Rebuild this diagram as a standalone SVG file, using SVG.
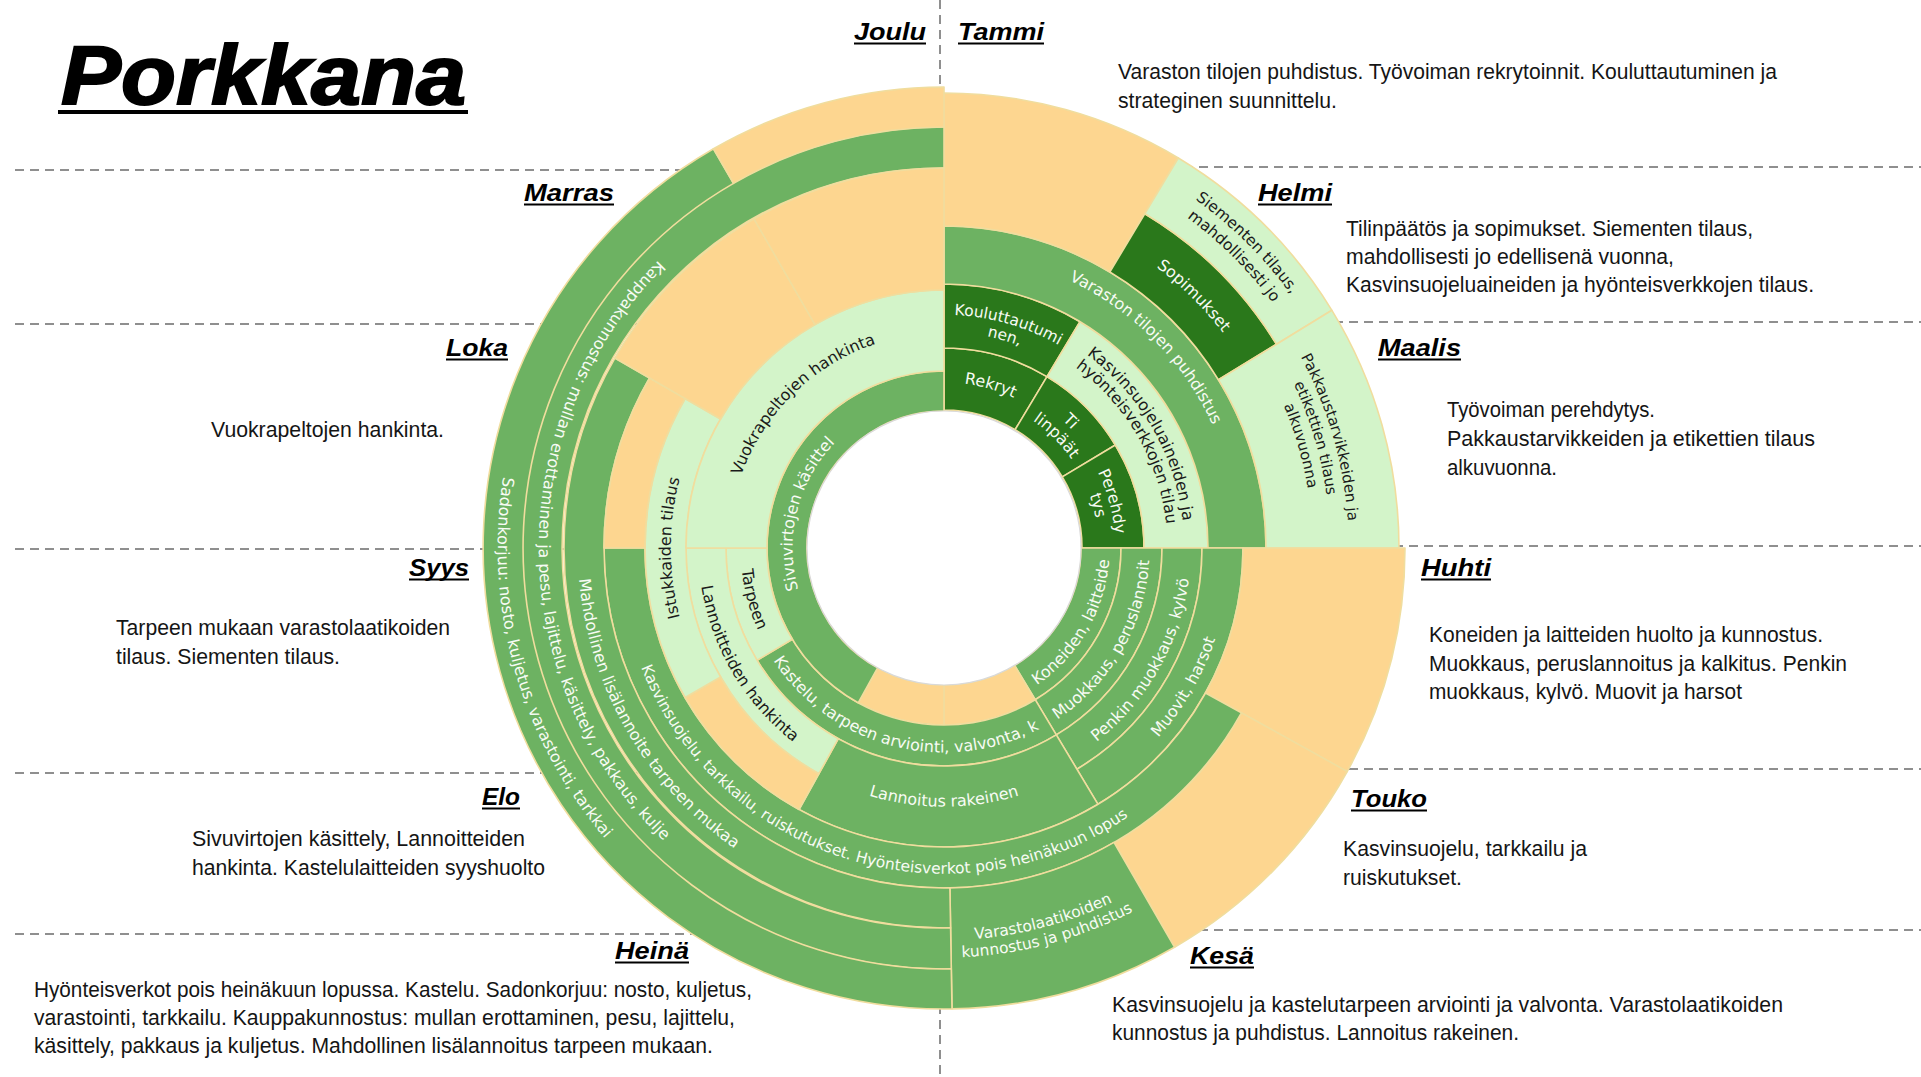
<svg xmlns="http://www.w3.org/2000/svg" width="1921" height="1077" viewBox="0 0 1921 1077">
<style>
.o{fill:#fdd690}.g{fill:#6db262}.d{fill:#2a781b}.l{fill:#d3f4c9}
.s{stroke:#f0dd9e;stroke-width:1.6;stroke-linejoin:round}
.lw{font-family:'DejaVu Sans',Verdana,sans-serif;font-size:16px;fill:#f7fbf4;text-anchor:middle}
.lb{font-family:'DejaVu Sans',Verdana,sans-serif;font-size:16px;fill:#1a1a1a;text-anchor:middle}
.mo{font-family:'Liberation Sans',Arial,sans-serif;font-weight:bold;font-style:italic;font-size:24px;fill:#000}
.ds{font-family:'Liberation Sans Narrow','Liberation Sans',Arial,sans-serif;font-size:22.5px;fill:#151515}
.dash{stroke:#8f8f8f;stroke-width:2;stroke-dasharray:9 6;fill:none}
</style>
<defs>
<path id="c1" d="M781.0,519.3 A165.5,165.5 0 0 1 1107.0,519.3"/>
<path id="c2" d="M714.5,507.6 A233,233 0 0 1 1173.5,507.6"/>
<path id="c3" d="M731.3,510.5 A216,216 0 0 1 1156.7,510.5"/>
<path id="c4" d="M772.2,517.7 A174.5,174.5 0 0 1 1115.8,517.7"/>
<path id="c5" d="M790.9,521.0 A155.5,155.5 0 0 1 1097.1,521.0"/>
<path id="c6" d="M775.1,518.2 A171.5,171.5 0 0 1 1112.9,518.2"/>
<path id="c7" d="M791.8,521.2 A154.5,154.5 0 0 1 1096.2,521.2"/>
<path id="c8" d="M707.2,506.2 A240.5,240.5 0 0 1 1180.8,506.2"/>
<path id="c9" d="M723.9,509.2 A223.5,223.5 0 0 1 1164.1,509.2"/>
<path id="c10" d="M653.0,496.7 A295.5,295.5 0 0 1 1235.0,496.7"/>
<path id="c11" d="M596.9,486.8 A352.5,352.5 0 0 1 1291.1,486.8"/>
<path id="c12" d="M521.0,473.4 A429.5,429.5 0 0 1 1367.0,473.4"/>
<path id="c13" d="M540.2,476.8 A410,410 0 0 1 1347.8,476.8"/>
<path id="c14" d="M545.6,477.8 A404.5,404.5 0 0 1 1342.4,477.8"/>
<path id="c15" d="M563.4,480.9 A386.5,386.5 0 0 1 1324.6,480.9"/>
<path id="c16" d="M581.1,484.0 A368.5,368.5 0 0 1 1306.9,484.0"/>
<path id="c17" d="M731.8,510.6 A215.5,215.5 0 0 1 1156.2,510.6"/>
<path id="c18" d="M794.8,521.7 A151.5,151.5 0 0 1 1093.2,521.7"/>
<path id="c19" d="M674.7,500.5 A273.5,273.5 0 0 1 1213.3,500.5"/>
<path id="d1" d="M781.0,576.7 A165.5,165.5 0 0 0 1107.0,576.7"/>
<path id="d2" d="M741.6,583.7 A205.5,205.5 0 0 0 1146.4,583.7"/>
<path id="d3" d="M701.2,590.8 A246.5,246.5 0 0 0 1186.8,590.8"/>
<path id="d4" d="M661.9,597.7 A286.5,286.5 0 0 0 1226.1,597.7"/>
<path id="d5" d="M742.6,583.5 A204.5,204.5 0 0 0 1145.4,583.5"/>
<path id="d6" d="M689.4,592.9 A258.5,258.5 0 0 0 1198.6,592.9"/>
<path id="d7" d="M623.4,604.5 A325.5,325.5 0 0 0 1264.6,604.5"/>
<path id="d8" d="M557.5,616.1 A392.5,392.5 0 0 0 1330.5,616.1"/>
<path id="d9" d="M540.7,619.1 A409.5,409.5 0 0 0 1347.3,619.1"/>
<path id="d10" d="M743.6,583.3 A203.5,203.5 0 0 0 1144.4,583.3"/>
<path id="d11" d="M702.2,590.6 A245.5,245.5 0 0 0 1185.8,590.6"/>
<path id="d12" d="M583.1,611.6 A366.5,366.5 0 0 0 1304.9,611.6"/>
<path id="d13" d="M544.7,618.4 A405.5,405.5 0 0 0 1343.3,618.4"/>
<path id="d14" d="M504.3,625.5 A446.5,446.5 0 0 0 1383.7,625.5"/>
</defs>
<rect width="1921" height="1077" fill="#fff"/>
<g id="guides">
<line class="dash" x1="15" y1="170" x2="944" y2="170"/>
<line class="dash" x1="15" y1="324" x2="944" y2="324"/>
<line class="dash" x1="15" y1="549" x2="944" y2="549"/>
<line class="dash" x1="15" y1="773" x2="944" y2="773"/>
<line class="dash" x1="15" y1="934" x2="944" y2="934"/>
<line class="dash" x1="944" y1="167" x2="1921" y2="167"/>
<line class="dash" x1="944" y1="322" x2="1921" y2="322"/>
<line class="dash" x1="944" y1="546" x2="1921" y2="546"/>
<line class="dash" x1="944" y1="769" x2="1921" y2="769"/>
<line class="dash" x1="944" y1="930" x2="1921" y2="930"/>
<line class="dash" x1="940" y1="0" x2="940" y2="1077"/>
</g>
<g id="sunburst">
<g id="n-rekryt"><path class="d s" d="M944,348 A200,200 0 0 1 1047.0,376.6 L1015.1,429.7 A138,138 0 0 0 944,410 Z"/><text class="lw" transform="rotate(16 944 548)"><textPath href="#c1" startOffset="50%">Rekryt</textPath></text></g>
<g id="n-tilinpaatos"><path class="d s" d="M1047.0,376.6 A200,200 0 0 1 1115.4,445.0 L1062.3,476.9 A138,138 0 0 0 1015.1,429.7 Z"/><text class="lw" transform="rotate(45 944 548)"><textPath href="#c4" startOffset="50%">Ti</textPath></text><text class="lw" transform="rotate(45 944 548)"><textPath href="#c5" startOffset="50%">linpäät</textPath></text></g>
<g id="n-perehdytys"><path class="d s" d="M1115.4,445.0 A200,200 0 0 1 1144,548 L1082,548 A138,138 0 0 0 1062.3,476.9 Z"/><text class="lw" transform="rotate(74.5 944 548)"><textPath href="#c6" startOffset="50%">Perehdy</textPath></text><text class="lw" transform="rotate(74.5 944 548)"><textPath href="#c7" startOffset="50%">tys</textPath></text></g>
<g id="n-kouluttautuminen"><path class="d s" d="M944,284 A264,264 0 0 1 1080.0,321.7 L1047.0,376.6 A200,200 0 0 0 944,348 Z"/><text class="lw" style="font-size:15.5px" transform="rotate(16 944 548)"><textPath href="#c2" startOffset="50%">Kouluttautumi</textPath></text><text class="lw" style="font-size:15.5px" transform="rotate(16 944 548)"><textPath href="#c3" startOffset="50%">nen,</textPath></text></g>
<g id="n-kasvinsuojeluaineet"><path class="l s" d="M1080.0,321.7 A264,264 0 0 1 1208,548 L1144,548 A200,200 0 0 0 1047.0,376.6 Z"/><text class="lb" transform="rotate(60 944 548)"><textPath href="#c8" startOffset="50%">Kasvinsuojeluaineiden ja</textPath></text><text class="lb" transform="rotate(60 944 548)"><textPath href="#c9" startOffset="50%">hyönteisverkkojen tilau</textPath></text></g>
<g id="n-varaston"><path class="g s" d="M944,226 A322,322 0 0 1 1266,548 L1208,548 A264,264 0 0 0 944,284 Z"/><text class="lw" transform="rotate(45.2 944 548)"><textPath href="#c10" startOffset="50%">Varaston tilojen puhdistus</textPath></text></g>
<g id="n-ur-empty"><path class="o s" d="M944,93 A455,455 0 0 1 1178.3,158.0 L1109.8,272.0 A322,322 0 0 0 944,226 Z"/></g>
<g id="n-sopimukset"><path class="d s" d="M1144.9,213.7 A390,390 0 0 1 1276.5,344.2 L1218.5,379.8 A322,322 0 0 0 1109.8,272.0 Z"/><text class="lw" transform="rotate(44.7 944 548)"><textPath href="#c11" startOffset="50%">Sopimukset</textPath></text></g>
<g id="n-siementen"><path class="l s" d="M1178.3,158.0 A455,455 0 0 1 1331.9,310.3 L1276.5,344.2 A390,390 0 0 0 1144.9,213.7 Z"/><text class="lb" style="font-size:15.5px" transform="rotate(44.8 944 548)"><textPath href="#c12" startOffset="50%">Siementen tilaus,</textPath></text><text class="lb" style="font-size:15.5px" transform="rotate(44.8 944 548)"><textPath href="#c13" startOffset="50%">mahdollisesti jo</textPath></text></g>
<g id="n-pakkaus"><path class="l s" d="M1331.9,310.3 A455,455 0 0 1 1399,548 L1266,548 A322,322 0 0 0 1218.5,379.8 Z"/><text class="lb" style="font-size:15px" transform="rotate(74 944 548)"><textPath href="#c14" startOffset="50%">Pakkaustarvikkeiden ja</textPath></text><text class="lb" style="font-size:15px" transform="rotate(73.5 944 548)"><textPath href="#c15" startOffset="50%">etikettien tilaus</textPath></text><text class="lb" style="font-size:15px" transform="rotate(74 944 548)"><textPath href="#c16" startOffset="50%">alkuvuonna</textPath></text></g>
<g id="n-koneiden"><path class="g s" d="M1121,548 A177,177 0 0 1 1035.2,699.7 L1014.6,665.4 A137,137 0 0 0 1081,548 Z"/><text class="lw" transform="rotate(-60 944 548)"><textPath href="#d1" startOffset="50%">Koneiden, laitteide</textPath></text></g>
<g id="n-r1-empty-a"><path class="o s" d="M1035.2,699.7 A177,177 0 0 1 944,725 L944,685 A137,137 0 0 0 1014.6,665.4 Z"/></g>
<g id="n-r1-empty-b"><path class="o s" d="M944,725 A177,177 0 0 1 858.2,702.8 L877.6,667.8 A137,137 0 0 0 944,685 Z"/></g>
<g id="n-muokkaus"><path class="g s" d="M1162,548 A218,218 0 0 1 1056.3,734.9 L1035.2,699.7 A177,177 0 0 0 1121,548 Z"/><text class="lw" transform="rotate(-60 944 548)"><textPath href="#d2" startOffset="50%">Muokkaus, peruslannoit</textPath></text></g>
<g id="n-kastelu"><path class="g s" d="M1056.3,734.9 A218,218 0 0 1 757.1,660.3 L792.3,639.2 A177,177 0 0 0 1035.2,699.7 Z"/><text class="lw" transform="rotate(14.4 944 548)"><textPath href="#d5" startOffset="50%">Kastelu, tarpeen arviointi, valvonta, k</textPath></text></g>
<g id="n-penkin"><path class="g s" d="M1202,548 A258,258 0 0 1 1076.9,769.2 L1056.3,734.9 A218,218 0 0 0 1162,548 Z"/><text class="lw" transform="rotate(-60.5 944 548)"><textPath href="#d3" startOffset="50%">Penkin muokkaus, kylvö</textPath></text></g>
<g id="n-muovit"><path class="g s" d="M1243,548 A299,299 0 0 1 1098.0,804.3 L1076.9,769.2 A258,258 0 0 0 1202,548 Z"/><text class="lw" transform="rotate(-60 944 548)"><textPath href="#d4" startOffset="50%">Muovit, harsot</textPath></text></g>
<g id="n-lannoitus"><path class="g s" d="M1098.0,804.3 A299,299 0 0 1 799.0,809.5 L838.3,738.7 A218,218 0 0 0 1056.3,734.9 Z"/><text class="lw" transform="rotate(0 944 548)"><textPath href="#d6" startOffset="50%">Lannoitus rakeinen</textPath></text></g>
<g id="n-lr-empty-a"><path class="o s" d="M1405,548 A461,461 0 0 1 1347.2,771.5 L1205.5,693.0 A299,299 0 0 0 1243,548 Z"/></g>
<g id="n-lr-empty-b"><path class="o s" d="M1347.2,771.5 A461,461 0 0 1 1174.5,947.2 L1114,842.4 A340,340 0 0 0 1241.4,712.8 Z"/></g>
<g id="n-kasvinsuojelu"><path class="g s" d="M1241.4,712.8 A340,340 0 0 1 604,548 L645,548 A299,299 0 0 0 1205.5,693.0 Z"/><text class="lw" style="font-size:15.5px" transform="rotate(17 944 548)"><textPath href="#d7" startOffset="50%">Kasvinsuojelu, tarkkailu, ruiskutukset. Hyönteisverkot pois heinäkuun lopus</textPath></text></g>
<g id="n-varastolaatikot"><path class="g s" d="M1174.5,947.2 A461,461 0 0 1 952.0,1008.9 L949.9,887.9 A340,340 0 0 0 1114,842.4 Z"/><text class="lw" style="font-size:15.5px" transform="rotate(-15 944 548)"><textPath href="#d8" startOffset="50%">Varastolaatikoiden</textPath></text><text class="lw" style="font-size:15.5px" transform="rotate(-15 944 548)"><textPath href="#d9" startOffset="50%">kunnostus ja puhdistus</textPath></text></g>
<g id="n-sivuvirrat"><path class="g s" d="M858.2,702.8 A177,177 0 0 1 944,371 L944,411 A137,137 0 0 0 877.6,667.8 Z"/><text class="lw" transform="rotate(284 944 548)"><textPath href="#c18" startOffset="50%">Sivuvirtojen käsittel</textPath></text></g>
<g id="n-tarpeen"><path class="l s" d="M757.1,660.3 A218,218 0 0 1 726,548 L767,548 A177,177 0 0 0 792.3,639.2 Z"/><text class="lb" transform="rotate(75 944 548)"><textPath href="#d10" startOffset="50%">Tarpeen</textPath></text></g>
<g id="n-lannoitteet"><path class="l s" d="M818.9,773.7 A258,258 0 0 1 686,548 L726,548 A218,218 0 0 0 838.3,738.7 Z"/><text class="lb" transform="rotate(59.4 944 548)"><textPath href="#d11" startOffset="50%">Lannoitteiden hankinta</textPath></text></g>
<g id="n-ll-empty"><path class="o s" d="M799.0,809.5 A299,299 0 0 1 685.1,697.5 L720.6,677 A258,258 0 0 0 818.9,773.7 Z"/></g>
<g id="n-istukkaat"><path class="l s" d="M685.1,697.5 A299,299 0 0 1 685.1,398.5 L720.6,419 A258,258 0 0 0 720.6,677 Z"/><text class="lb" transform="rotate(270 944 548)"><textPath href="#c19" startOffset="50%">Istukkaiden tilaus</textPath></text></g>
<g id="n-mahdollinen"><path class="g s" d="M950.6,927.9 A380,380 0 0 1 614.9,358 L649.6,378 A340,340 0 0 0 949.9,887.9 Z"/><text class="lw" transform="rotate(60 944 548)"><textPath href="#d12" startOffset="50%">Mahdollinen lisälannoite tarpeen mukaa</textPath></text></g>
<g id="n-kauppakunnostus"><path class="g s" d="M951.3,968.9 A421,421 0 1 1 944,127 L944,168 A380,380 0 1 0 950.6,927.9 Z"/><text class="lw" transform="rotate(89.5 944 548)"><textPath href="#d13" startOffset="50%">Kauppakunnostus: mullan erottaminen ja pesu, lajittelu, käsittely, pakkaus, kulje</textPath></text></g>
<g id="n-sadonkorjuu"><path class="g s" d="M952.0,1008.9 A461,461 0 0 1 713.5,148.8 L733.5,183.4 A421,421 0 0 0 951.3,968.9 Z"/><text class="lw" transform="rotate(74.3 944 548)"><textPath href="#d14" startOffset="50%">Sadonkorjuu: nosto, kuljetus, varastointi, tarkkai</textPath></text></g>
<g id="n-vuokrapellot"><path class="l s" d="M686,548 A258,258 0 0 1 944,290 L944,371 A177,177 0 0 0 767,548 Z"/><text class="lb" transform="rotate(315.6 944 548)"><textPath href="#c17" startOffset="50%">Vuokrapeltojen hankinta</textPath></text></g>
<g id="n-ul-empty-a"><path class="o s" d="M604,548 A340,340 0 0 1 649.6,378 L685.1,398.5 A299,299 0 0 0 645,548 Z"/></g>
<g id="n-ul-empty-b"><path class="o s" d="M614.9,358 A380,380 0 0 1 754,218.9 L815,324.6 A258,258 0 0 0 720.6,419 Z"/></g>
<g id="n-ul-empty-c"><path class="o s" d="M754,218.9 A380,380 0 0 1 944,168 L944,290 A258,258 0 0 0 815,324.6 Z"/></g>
<g id="n-ul-empty-d"><path class="o s" d="M713.5,148.8 A461,461 0 0 1 944,87 L944,127 A421,421 0 0 0 733.5,183.4 Z"/></g>
<circle id="hole" cx="944" cy="548" r="137" fill="#fff" stroke="#d9d9d9" stroke-width="1.2"/>
</g>
<g id="months">
<g id="m-joulu"><text class="mo" x="854" y="40" textLength="72" lengthAdjust="spacingAndGlyphs">Joulu</text><rect x="854" y="42.5" width="72" height="2"/></g>
<g id="m-tammi"><text class="mo" x="958" y="40" textLength="86" lengthAdjust="spacingAndGlyphs">Tammi</text><rect x="958" y="42.5" width="86" height="2"/></g>
<g id="m-marras"><text class="mo" x="524" y="201" textLength="90" lengthAdjust="spacingAndGlyphs">Marras</text><rect x="524" y="203.5" width="90" height="2"/></g>
<g id="m-helmi"><text class="mo" x="1258" y="201" textLength="74" lengthAdjust="spacingAndGlyphs">Helmi</text><rect x="1258" y="203.5" width="74" height="2"/></g>
<g id="m-loka"><text class="mo" x="446" y="356" textLength="62" lengthAdjust="spacingAndGlyphs">Loka</text><rect x="446" y="358.5" width="62" height="2"/></g>
<g id="m-maalis"><text class="mo" x="1378" y="356" textLength="83" lengthAdjust="spacingAndGlyphs">Maalis</text><rect x="1378" y="358.5" width="83" height="2"/></g>
<g id="m-syys"><text class="mo" x="409" y="576" textLength="60" lengthAdjust="spacingAndGlyphs">Syys</text><rect x="409" y="578.5" width="60" height="2"/></g>
<g id="m-huhti"><text class="mo" x="1421" y="576" textLength="70" lengthAdjust="spacingAndGlyphs">Huhti</text><rect x="1421" y="578.5" width="70" height="2"/></g>
<g id="m-elo"><text class="mo" x="482" y="805" textLength="38" lengthAdjust="spacingAndGlyphs">Elo</text><rect x="482" y="807.5" width="38" height="2"/></g>
<g id="m-touko"><text class="mo" x="1351" y="807" textLength="76" lengthAdjust="spacingAndGlyphs">Touko</text><rect x="1351" y="809.5" width="76" height="2"/></g>
<g id="m-heina"><text class="mo" x="615" y="959" textLength="74" lengthAdjust="spacingAndGlyphs">Heinä</text><rect x="615" y="961.5" width="74" height="2"/></g>
<g id="m-kesa"><text class="mo" x="1190" y="964" textLength="64" lengthAdjust="spacingAndGlyphs">Kesä</text><rect x="1190" y="966.5" width="64" height="2"/></g>
</g>
<g id="descriptions">
<g id="t-tammi"><text class="ds" x="1118" y="79" textLength="659" lengthAdjust="spacingAndGlyphs">Varaston tilojen puhdistus. Työvoiman rekrytoinnit. Kouluttautuminen ja</text><text class="ds" x="1118" y="108" textLength="219" lengthAdjust="spacingAndGlyphs">strateginen suunnittelu.</text></g>
<g id="t-helmi"><text class="ds" x="1346" y="236" textLength="407" lengthAdjust="spacingAndGlyphs">Tilinpäätös ja sopimukset. Siementen tilaus,</text><text class="ds" x="1346" y="264" textLength="328" lengthAdjust="spacingAndGlyphs">mahdollisesti jo edellisenä vuonna,</text><text class="ds" x="1346" y="292" textLength="468" lengthAdjust="spacingAndGlyphs">Kasvinsuojeluaineiden ja hyönteisverkkojen tilaus.</text></g>
<g id="t-maalis"><text class="ds" x="1447" y="417" textLength="208" lengthAdjust="spacingAndGlyphs">Työvoiman perehdytys.</text><text class="ds" x="1447" y="446" textLength="368" lengthAdjust="spacingAndGlyphs">Pakkaustarvikkeiden ja etikettien tilaus</text><text class="ds" x="1447" y="475" textLength="110" lengthAdjust="spacingAndGlyphs">alkuvuonna.</text></g>
<g id="t-loka"><text class="ds" x="211" y="437" textLength="233" lengthAdjust="spacingAndGlyphs">Vuokrapeltojen hankinta.</text></g>
<g id="t-syys"><text class="ds" x="116" y="635" textLength="334" lengthAdjust="spacingAndGlyphs">Tarpeen mukaan varastolaatikoiden</text><text class="ds" x="116" y="664" textLength="224" lengthAdjust="spacingAndGlyphs">tilaus. Siementen tilaus.</text></g>
<g id="t-huhti"><text class="ds" x="1429" y="642" textLength="394" lengthAdjust="spacingAndGlyphs">Koneiden ja laitteiden huolto ja kunnostus.</text><text class="ds" x="1429" y="671" textLength="418" lengthAdjust="spacingAndGlyphs">Muokkaus, peruslannoitus ja kalkitus. Penkin</text><text class="ds" x="1429" y="699" textLength="313" lengthAdjust="spacingAndGlyphs">muokkaus, kylvö. Muovit ja harsot</text></g>
<g id="t-elo"><text class="ds" x="192" y="846" textLength="333" lengthAdjust="spacingAndGlyphs">Sivuvirtojen käsittely, Lannoitteiden</text><text class="ds" x="192" y="875" textLength="353" lengthAdjust="spacingAndGlyphs">hankinta. Kastelulaitteiden syyshuolto</text></g>
<g id="t-touko"><text class="ds" x="1343" y="856" textLength="244" lengthAdjust="spacingAndGlyphs">Kasvinsuojelu, tarkkailu ja</text><text class="ds" x="1343" y="885" textLength="119" lengthAdjust="spacingAndGlyphs">ruiskutukset.</text></g>
<g id="t-heina"><text class="ds" x="34" y="997" textLength="718" lengthAdjust="spacingAndGlyphs">Hyönteisverkot pois heinäkuun lopussa. Kastelu. Sadonkorjuu: nosto, kuljetus,</text><text class="ds" x="34" y="1025" textLength="701" lengthAdjust="spacingAndGlyphs">varastointi, tarkkailu. Kauppakunnostus: mullan erottaminen, pesu, lajittelu,</text><text class="ds" x="34" y="1053" textLength="679" lengthAdjust="spacingAndGlyphs">käsittely, pakkaus ja kuljetus. Mahdollinen lisälannoitus tarpeen mukaan.</text></g>
<g id="t-kesa"><text class="ds" x="1112" y="1012" textLength="671" lengthAdjust="spacingAndGlyphs">Kasvinsuojelu ja kastelutarpeen arviointi ja valvonta. Varastolaatikoiden</text><text class="ds" x="1112" y="1040" textLength="407" lengthAdjust="spacingAndGlyphs">kunnostus ja puhdistus. Lannoitus rakeinen.</text></g>
</g>
<g id="title"><text x="61" y="104" font-family="'Liberation Sans',Arial,sans-serif" font-weight="bold" font-style="italic" font-size="84" fill="#000" stroke="#000" stroke-width="2" textLength="405" lengthAdjust="spacingAndGlyphs">Porkkana</text><rect x="58" y="110" width="410" height="4"/></g>
</svg>
